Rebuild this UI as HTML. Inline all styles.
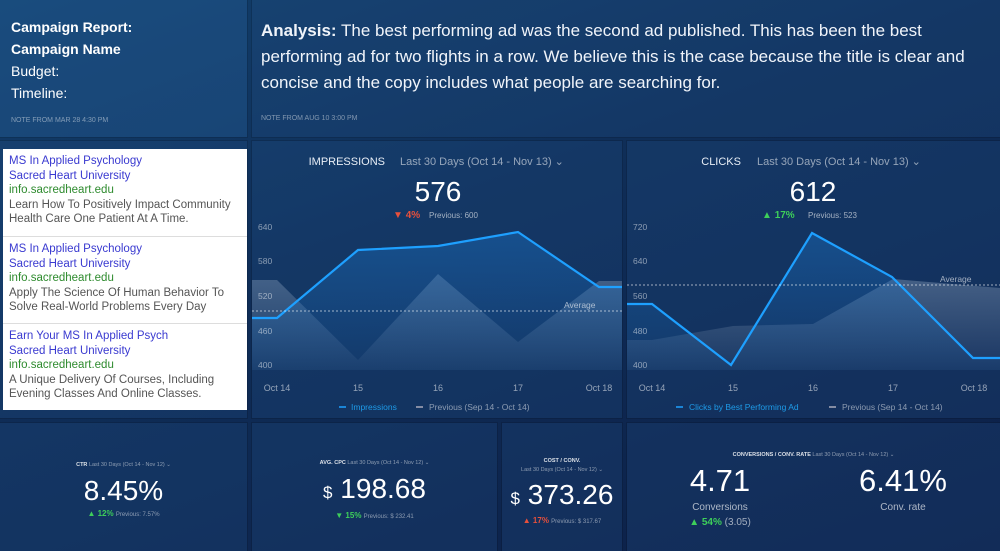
<!DOCTYPE html>
<html><head><meta charset="utf-8"><style>
*{margin:0;padding:0;box-sizing:border-box}
body{width:1000px;height:551px;overflow:hidden;background:linear-gradient(160deg,#123f6b 0%,#0f2e58 40%,#0c1f47 100%);font-family:"Liberation Sans",sans-serif;color:#fff;position:relative}
.p{position:absolute;background:rgba(40,90,150,0.22);box-shadow:0 0 0 1px rgba(0,0,0,0.12)}
.note{position:absolute;font-size:7px;color:rgba(255,255,255,0.45)}
.ad{position:absolute;left:3px;width:244px;background:#fff;font-size:11.5px;line-height:14.5px;padding:5px 6px;color:#555}
.ad .t{color:#3a3ad0}.ad .u{color:#2e8b2e}
.lbl{position:absolute;font-size:9px;color:rgba(255,255,255,0.85);text-align:center;white-space:nowrap}
.small{font-size:5.5px;color:rgba(255,255,255,0.5)}
.big{position:absolute;text-align:center;font-weight:300;white-space:nowrap}
svg text{font-family:"Liberation Sans",sans-serif}
</style></head><body>
<div class="p" style="left:0;top:0;width:247px;height:137px;background:rgba(40,100,160,0.35)"></div>
<div style="position:absolute;left:11px;top:16px;font-size:14px;line-height:22px">
<b>Campaign Report:</b><br><b>Campaign Name</b><br><span style="font-weight:300">Budget:</span><br><span style="font-weight:300">Timeline:</span></div>
<div class="note" style="left:11px;top:117px">NOTE FROM MAR 28 4:30 PM</div>

<div class="p" style="left:252px;top:0;width:748px;height:137px"></div>
<div style="position:absolute;left:261px;top:18px;width:730px;font-size:17px;line-height:26px;color:#f0f4fa"><b>Analysis:</b> The best performing ad was the second ad published. This has been the best<br>performing ad for two flights in a row. We believe this is the case because the title is clear and<br>concise and the copy includes what people are searching for.</div>
<div class="note" style="left:261px;top:115px">NOTE FROM AUG 10 3:00 PM</div>

<div class="p" style="left:0;top:141px;width:247px;height:277px"></div>
<div class="ad" style="top:149px;height:88px;border-bottom:1px solid #ddd"><div class="t">MS In Applied Psychology</div><div class="t">Sacred Heart University</div><div class="u">info.sacredheart.edu</div>Learn How To Positively Impact Community Health Care One Patient At A Time.</div>
<div class="ad" style="top:237px;height:87px;border-bottom:1px solid #ddd"><div class="t">MS In Applied Psychology</div><div class="t">Sacred Heart University</div><div class="u">info.sacredheart.edu</div>Apply The Science Of Human Behavior To Solve Real-World Problems Every Day</div>
<div class="ad" style="top:324px;height:86px"><div class="t">Earn Your MS In Applied Psych</div><div class="t">Sacred Heart University</div><div class="u">info.sacredheart.edu</div>A Unique Delivery Of Courses, Including Evening Classes And Online Classes.</div>

<div class="p" style="left:252px;top:141px;width:370px;height:277px"></div>
<div class="p" style="left:627px;top:141px;width:373px;height:277px"></div>

<svg style="position:absolute;left:0;top:0" width="1000" height="551">
<defs><linearGradient id="bg" x1="0" y1="0" x2="0" y2="1"><stop offset="0" stop-color="#1a6fc0" stop-opacity=".45"/><stop offset="1" stop-color="#1a6fc0" stop-opacity=".08"/></linearGradient>
<linearGradient id="gg" x1="0" y1="0" x2="0" y2="1"><stop offset="0" stop-color="#9fb3cc" stop-opacity=".35"/><stop offset="1" stop-color="#9fb3cc" stop-opacity=".05"/></linearGradient></defs>
<!-- impressions -->
<text x="385" y="165" font-size="11" fill="#e8eef6" text-anchor="end">IMPRESSIONS</text>
<text x="400" y="165" font-size="11" fill="rgba(255,255,255,0.55)">Last 30 Days (Oct 14 - Nov 13) ⌄</text>
<text x="438" y="201" font-size="28" fill="#fff" text-anchor="middle" font-weight="300">576</text>
<text x="393" y="218" font-size="10" fill="#e8503c">▼ <tspan font-weight="bold">4%</tspan></text>
<text x="429" y="218" font-size="8" fill="rgba(255,255,255,0.6)">Previous: 600</text>
<polygon points="252,280 277,280 358,360 438,274 518,342 599,281 622,281 622,370 252,370" fill="url(#gg)"/>
<polygon points="252,318 277,318 358,250 438,246 518,232 599,287 622,287 622,370 252,370" fill="url(#bg)"/>
<polyline points="252,318 277,318 358,250 438,246 518,232 599,287 622,287" fill="none" stroke="#1ea0ff" stroke-width="2.2"/>
<line x1="252" y1="311" x2="622" y2="311" stroke="rgba(255,255,255,0.6)" stroke-dasharray="2,2"/>
<text x="564" y="308" font-size="8.5" fill="rgba(255,255,255,0.6)">Average</text>
<g font-size="8.5" fill="rgba(255,255,255,0.5)"><text x="258" y="230">640</text><text x="258" y="264">580</text><text x="258" y="299">520</text><text x="258" y="334">460</text><text x="258" y="368">400</text></g>
<g font-size="9" fill="rgba(255,255,255,0.55)" text-anchor="middle"><text x="277" y="391">Oct 14</text><text x="358" y="391">15</text><text x="438" y="391">16</text><text x="518" y="391">17</text><text x="599" y="391">Oct 18</text></g>
<line x1="339" y1="407" x2="346" y2="407" stroke="#1ea0ff" stroke-width="1.5"/><text x="351" y="410" font-size="8.5" fill="#1e9be8">Impressions</text>
<line x1="416" y1="407" x2="423" y2="407" stroke="#aab" stroke-width="1.5"/><text x="429" y="410" font-size="8.5" fill="rgba(255,255,255,0.5)">Previous (Sep 14 - Oct 14)</text>
<!-- clicks -->
<text x="741" y="165" font-size="11" fill="#e8eef6" text-anchor="end">CLICKS</text>
<text x="757" y="165" font-size="11" fill="rgba(255,255,255,0.55)">Last 30 Days (Oct 14 - Nov 13) ⌄</text>
<text x="813" y="201" font-size="28" fill="#fff" text-anchor="middle" font-weight="300">612</text>
<text x="762" y="218" font-size="10" fill="#3ecf5a">▲ <tspan font-weight="bold">17%</tspan></text>
<text x="808" y="218" font-size="8" fill="rgba(255,255,255,0.6)">Previous: 523</text>
<polygon points="627,340 652,340 733,326 813,324 893,279 1000,288 1000,370 627,370" fill="url(#gg)"/>
<polygon points="627,304 652,304 731,365 812,233 892,277 973,358 1000,358 1000,370 627,370" fill="url(#bg)"/>
<polyline points="627,304 652,304 731,365 812,233 892,277 973,358 1000,358" fill="none" stroke="#1ea0ff" stroke-width="2.2"/>
<line x1="627" y1="285" x2="1000" y2="285" stroke="rgba(255,255,255,0.6)" stroke-dasharray="2,2"/>
<text x="940" y="282" font-size="8.5" fill="rgba(255,255,255,0.6)">Average</text>
<g font-size="8.5" fill="rgba(255,255,255,0.5)"><text x="633" y="230">720</text><text x="633" y="264">640</text><text x="633" y="299">560</text><text x="633" y="334">480</text><text x="633" y="368">400</text></g>
<g font-size="9" fill="rgba(255,255,255,0.55)" text-anchor="middle"><text x="652" y="391">Oct 14</text><text x="733" y="391">15</text><text x="813" y="391">16</text><text x="893" y="391">17</text><text x="974" y="391">Oct 18</text></g>
<line x1="676" y1="407" x2="683" y2="407" stroke="#1ea0ff" stroke-width="1.5"/><text x="689" y="410" font-size="8.5" fill="#1e9be8">Clicks by Best Performing Ad</text>
<line x1="829" y1="407" x2="836" y2="407" stroke="#aab" stroke-width="1.5"/><text x="842" y="410" font-size="8.5" fill="rgba(255,255,255,0.5)">Previous (Sep 14 - Oct 14)</text>
</svg>

<div class="p" style="left:0;top:423px;width:247px;height:128px"></div>
<div class="p" style="left:252px;top:423px;width:245px;height:128px"></div>
<div class="p" style="left:502px;top:423px;width:120px;height:128px"></div>
<div class="p" style="left:627px;top:423px;width:373px;height:128px"></div>

<div class="lbl" style="left:0;width:247px;top:462px;font-size:5.5px"><b>CTR</b> <span class="small">Last 30 Days (Oct 14 - Nov 12) ⌄</span></div>
<div class="big" style="left:0;width:247px;top:475px;font-size:28px">8.45%</div>
<div class="lbl" style="left:0;width:247px;top:509px;font-size:8px"><span style="color:#3ecf5a">▲ <b>12%</b></span> <span class="small" style="font-size:6px">Previous: 7.57%</span></div>

<div class="lbl" style="left:252px;width:245px;top:460px;font-size:5.5px"><b>AVG. CPC</b> <span class="small">Last 30 Days (Oct 14 - Nov 12) ⌄</span></div>
<div class="big" style="left:252px;width:245px;top:473px;font-size:28px"><span style="font-size:17px">$</span> 198.68</div>
<div class="lbl" style="left:252px;width:245px;top:511px;font-size:8px"><span style="color:#3ecf5a">▼ <b>15%</b></span> <span class="small" style="font-size:6px">Previous: $ 232.41</span></div>

<div class="lbl" style="left:502px;width:120px;top:458px;font-size:5.5px"><b>COST / CONV.</b></div>
<div class="lbl small" style="left:502px;width:120px;top:467px">Last 30 Days (Oct 14 - Nov 12) ⌄</div>
<div class="big" style="left:502px;width:120px;top:479px;font-size:28px"><span style="font-size:17px">$</span> 373.26</div>
<div class="lbl" style="left:502px;width:120px;top:516px;font-size:8px"><span style="color:#e8503c">▲ <b>17%</b></span> <span class="small" style="font-size:6px">Previous: $ 317.67</span></div>

<div class="lbl" style="left:627px;width:373px;top:452px;font-size:5.5px"><b>CONVERSIONS / CONV. RATE</b> <span class="small">Last 30 Days (Oct 14 - Nov 12) ⌄</span></div>
<div class="big" style="left:660px;width:120px;top:463px;font-size:31px">4.71</div>
<div class="lbl" style="left:660px;width:120px;top:502px;font-size:10px;color:rgba(255,255,255,0.65)">Conversions</div>
<div class="lbl" style="left:660px;width:120px;top:517px;font-size:10px"><span style="color:#3ecf5a">▲ <b>54%</b></span> <span style="color:rgba(255,255,255,0.6)">(3.05)</span></div>
<div class="big" style="left:843px;width:120px;top:463px;font-size:31px">6.41%</div>
<div class="lbl" style="left:843px;width:120px;top:502px;font-size:10px;color:rgba(255,255,255,0.65)">Conv. rate</div>
</body></html>
